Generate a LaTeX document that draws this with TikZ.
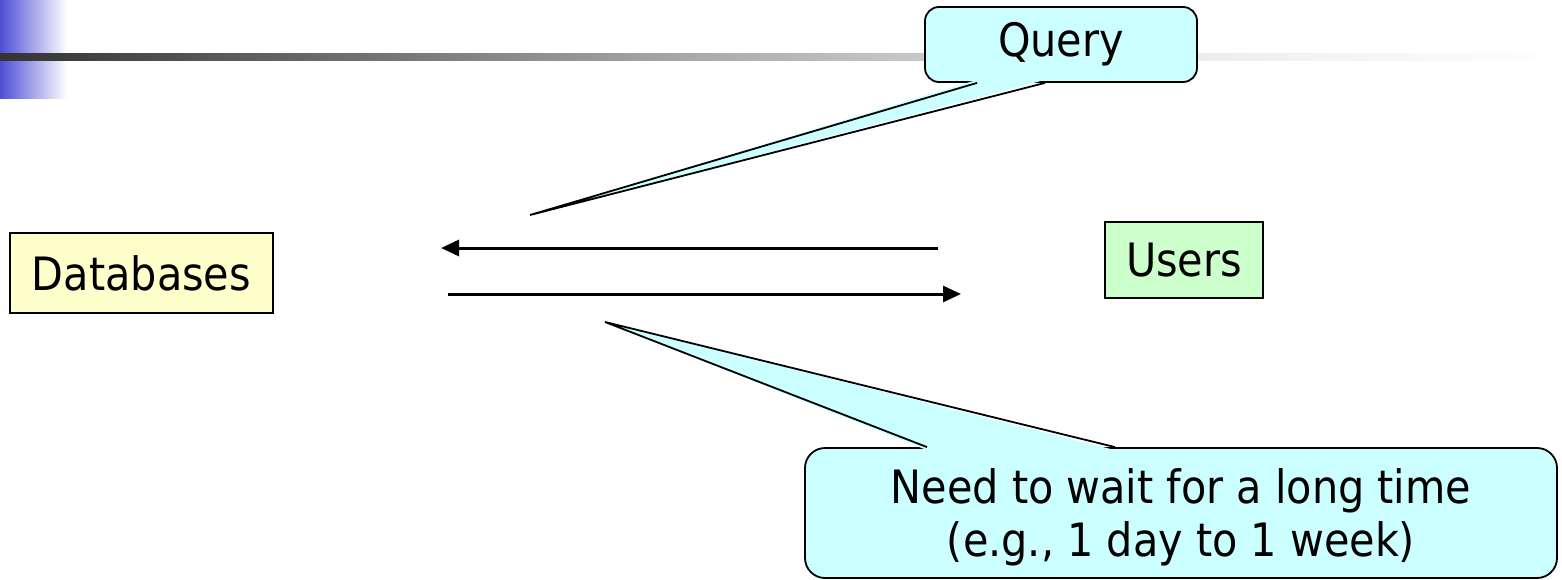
\documentclass[tikz,border=0pt]{standalone}
\usepackage{fontspec}
\setmainfont{DejaVu Sans Condensed}
\usepackage{tikz}
\usetikzlibrary{positioning,arrows.meta,calc}

\definecolor{dbyellow}{HTML}{FFFFCC}
\definecolor{usergreen}{HTML}{CCFFCC}
\definecolor{callcyan}{HTML}{CCFFFF}
\definecolor{barblue}{HTML}{4E4ED6}

\begin{document}
\begin{tikzpicture}[x=1pt,y=-1pt,
	every node/.style={font=\fontsize{46}{53}\selectfont,inner sep=0pt},
	plainbox/.style={rectangle,draw=black,line width=1.8pt},
	callbox/.style={rectangle,draw=black,line width=1.8pt,fill=callcyan,align=center},
	flow/.style={line width=3pt,-{Triangle[length=18pt,width=16pt]}}]

		\useasboundingbox (0,0) rectangle (1562,580);

		%header strip
		\shade[left color=barblue,right color=white] (0,0) rectangle (67,54);
		\shade[left color=barblue,right color=white] (0,61) rectangle (67,99);
		\shade[left color=black!80,right color=black!33] (0,54) rectangle (700,61);
		\shade[left color=black!33,right color=black!7] (700,54) rectangle (1200,61);
		\shade[left color=black!7,right color=white] (1200,54) rectangle (1562,61);

		%boxes
		\node[plainbox,fill=dbyellow,minimum width=263pt,minimum height=80pt] (db) at (141.5,273) {Databases};
		\node[plainbox,fill=usergreen,minimum width=158pt,minimum height=76pt] (users) at (1184,260) {Users};

		%arrows
		\coordinate (r1) at (938,248);
		\coordinate (r2) at (441,248);
		\coordinate (s1) at (448,294);
		\coordinate (s2) at (961,294);
		\draw[flow] (r1) -- (r2);
		\draw[flow] (s1) -- (s2);

		%query callout
		\node[callbox,rounded corners=14pt,minimum width=272pt,minimum height=75pt] (query) at (1061,44.5) {Query};
		\coordinate (qtip) at (530,215);
		\coordinate (q1) at ($(query.south)+(-84,0)$);
		\coordinate (q2) at ($(query.south)+(-16,0)$);
		\fill[callcyan] ($(q1)+(0,-3)$) -- (qtip) -- ($(q2)+(0,-3)$) -- cycle;
		\draw[line width=1.8pt] (q1) -- (qtip) -- (q2);

		%wait callout
		\node[callbox,rounded corners=20pt,minimum width=752pt,minimum height=130pt] (wait) at (1181,513) {};
		\node (waittext) at ($(wait.center)+(0,4)$) [align=center] {Need to wait for a long time\\(e.g., 1 day to 1 week)};
		\coordinate (wtip) at (605,322);
		\coordinate (w1) at ($(wait.north)+(-254,0)$);
		\coordinate (w2) at ($(wait.north)+(-66,0)$);
		\fill[callcyan] ($(w1)+(0,3)$) -- (wtip) -- ($(w2)+(0,3)$) -- cycle;
		\draw[line width=1.8pt] (w1) -- (wtip) -- (w2);

\end{tikzpicture}
\end{document}
